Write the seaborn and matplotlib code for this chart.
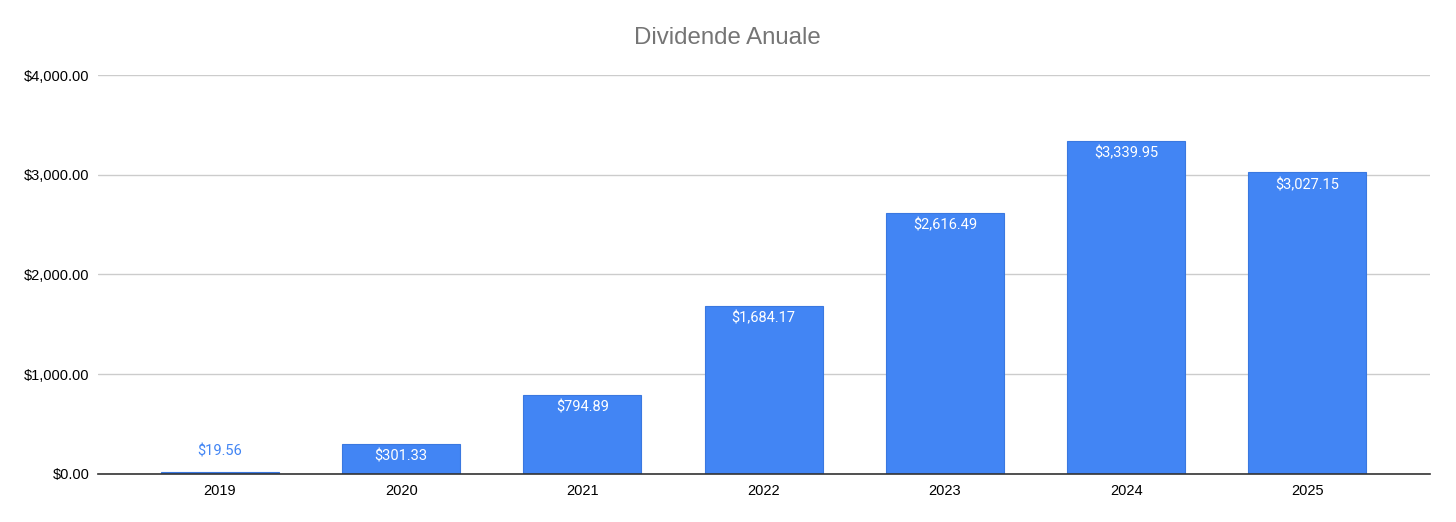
import pandas as pd
import matplotlib
matplotlib.use('Agg')
import matplotlib.pyplot as plt
import matplotlib.ticker as mticker
import seaborn as sns

# data
years = ['2019', '2020', '2021', '2022', '2023', '2024', '2025']
dividends = [19.56, 301.33, 794.89, 1684.17, 2616.49, 3339.95, 3027.15]

df = pd.DataFrame({'An': years, 'Dividende': dividends})

sns.set_theme(style='white')
plt.rcParams['font.family'] = ['Liberation Sans', 'DejaVu Sans']

blue = '#4285F4'

fig = plt.figure(figsize=(14.56, 5.22), dpi=100)
ax = fig.add_axes([0.0673, 0.092, 0.9147, 0.7643])

sns.barplot(data=df, x='An', y='Dividende', color=blue, saturation=1,
            width=0.65, edgecolor='#3a78e0', linewidth=0.8, ax=ax, zorder=3)

ax.set_ylim(0, 4000)
ax.set_xlim(-0.673, 6.676)
ax.set_yticks([0, 1000, 2000, 3000, 4000])
ax.yaxis.set_major_formatter(mticker.StrMethodFormatter('${x:,.2f}'))
ax.grid(axis='y', color='#cccccc', linewidth=1, zorder=0)
ax.set_axisbelow(True)

for s in ['top', 'right', 'left']:
    ax.spines[s].set_visible(False)
ax.spines['bottom'].set_color('#333333')
ax.spines['bottom'].set_linewidth(1.2)
ax.spines['bottom'].set_zorder(4)

ax.tick_params(axis='both', length=0, labelsize=10.5, colors='black')
ax.tick_params(axis='y', pad=6)
ax.tick_params(axis='x', pad=7)
ax.set_xlabel('')
ax.set_ylabel('')

# data labels
for i, v in enumerate(dividends):
    txt = '${:,.2f}'.format(v)
    if v < 200:
        ax.annotate(txt, (i, v), xytext=(0, 10), textcoords='offset points',
                    ha='center', va='bottom', color=blue, fontsize=10.5,
                    family=['Roboto', 'DejaVu Sans'], zorder=5)
    else:
        ax.annotate(txt, (i, v), xytext=(0, -4), textcoords='offset points',
                    ha='center', va='top', color='white', fontsize=10.5,
                    family=['Roboto', 'DejaVu Sans'], zorder=5)

fig.suptitle('Dividende Anuale', x=0.4995, y=0.948, fontsize=17.3,
             color='#757575')

fig.savefig('out.png', dpi=100, facecolor='white')
